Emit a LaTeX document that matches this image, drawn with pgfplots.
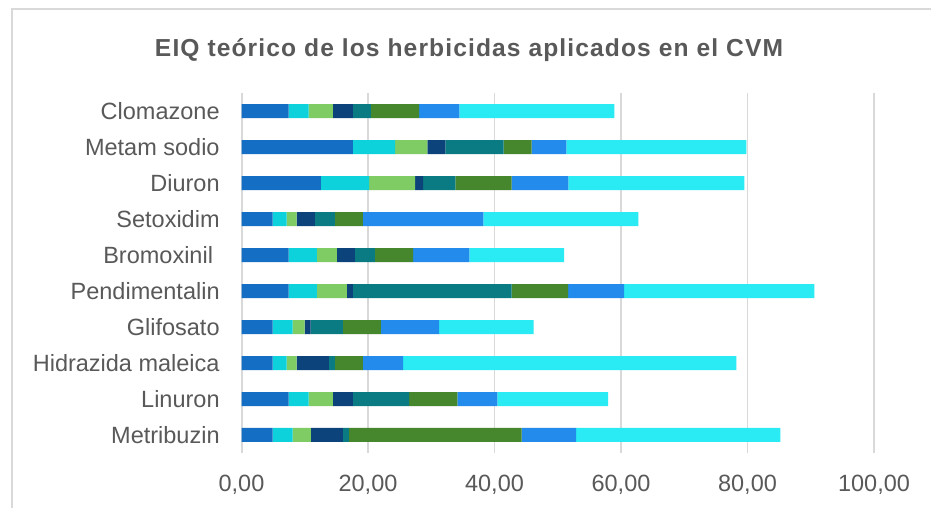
\documentclass[border=0pt]{standalone}
\usepackage{pgfplots}
\usepackage{pgfplotstable}
\pgfplotsset{compat=1.18}
\usepackage{fontspec}
\setmainfont{Liberation Sans}
\definecolor{txt}{HTML}{595959}
\definecolor{grd}{HTML}{D9D9D9}
\definecolor{c1}{HTML}{136EC4}
\definecolor{c2}{HTML}{0DD1DB}
\definecolor{c3}{HTML}{7FCC65}
\definecolor{c4}{HTML}{0C437A}
\definecolor{c5}{HTML}{0A7B82}
\definecolor{c6}{HTML}{46862C}
\definecolor{c7}{HTML}{228BEB}
\definecolor{c8}{HTML}{2AEBF3}
\pgfplotstableread[col sep=comma]{
y,name,a,b,c,d,e,f,g,h
9,Clomazone,7.46,3.17,3.81,3.17,2.86,7.62,6.35,24.50
8,Metam sodio,17.62,6.67,5.08,2.86,9.21,4.44,5.47,28.49
7,Diuron,12.54,7.62,7.30,1.27,5.08,8.89,8.96,27.84
6,Setoxidim,4.92,2.22,1.59,2.86,3.17,4.44,19.05,24.49
5,Bromoxinil,7.46,4.44,3.17,2.86,3.17,6.03,8.89,15.00
4,Pendimentalin,7.46,4.44,4.76,0.95,25.08,8.96,8.86,30.07
3,Glifosato,4.92,3.17,1.90,0.95,5.08,6.03,9.21,14.92
2,Hidrazida maleica,4.92,2.22,1.59,5.08,0.95,4.44,6.35,52.68
1,Linuron,7.46,3.17,3.81,3.17,8.89,7.62,6.35,17.51
0,Metribuzin,4.92,3.17,2.86,5.08,0.95,27.30,8.64,32.27
}\datatable
\begin{document}
\begin{tikzpicture}
\useasboundingbox (0,0) rectangle (465.5pt,254pt);
\clip (0,0) rectangle (465.5pt,254pt);
\fill[white] (0,0) rectangle (465.5pt,254pt);
\draw[grd, line width=1pt] (6pt,-5pt) rectangle (475pt,249.5pt);
\node[txt, font=\fontsize{12.3}{14}\selectfont\bfseries\addfontfeature{LetterSpace=4.5}] at (234.5pt,229pt) {EIQ teórico de los herbicidas aplicados en el CVM};
\begin{axis}[
  at={(120.75pt,27.5pt)}, anchor=south west,
  scale only axis, width=316.25pt, height=180pt,
  xbar stacked, bar width=7pt,
  xmin=0, xmax=100, ymin=-0.5, ymax=9.5,
  xtick={0,20,...,100},
  ytick={0,...,9},
  yticklabels={Metribuzin,Linuron,Hidrazida maleica,Glifosato,Pendimentalin,Bromoxinil\hspace*{0.28em},Setoxidim,Diuron,Metam sodio,Clomazone},
  major tick length=0pt,
  axis x line*=bottom,
  axis y line*=left,
  y axis line style={grd, line width=1pt},
  x axis line style={draw=none},
  xmajorgrids, grid style={grd, line width=0.9pt},
  tick label style={txt, font=\fontsize{11.75}{14}\selectfont},
  /pgf/number format/assume math mode=true,
  xticklabel={\pgfmathprintnumber[fixed,fixed zerofill,precision=2,use comma]{\tick}},
  xticklabel style={inner sep=0pt, anchor=north, yshift=-10.85pt},
  yticklabel style={inner sep=0pt, anchor=east, xshift=-10.75pt},
  every axis plot/.append style={draw=none},
]
\addplot[fill=c1] table[x=a,y=y]{\datatable};
\addplot[fill=c2] table[x=b,y=y]{\datatable};
\addplot[fill=c3] table[x=c,y=y]{\datatable};
\addplot[fill=c4] table[x=d,y=y]{\datatable};
\addplot[fill=c5] table[x=e,y=y]{\datatable};
\addplot[fill=c6] table[x=f,y=y]{\datatable};
\addplot[fill=c7] table[x=g,y=y]{\datatable};
\addplot[fill=c8] table[x=h,y=y]{\datatable};
\end{axis}
\end{tikzpicture}
\end{document}
